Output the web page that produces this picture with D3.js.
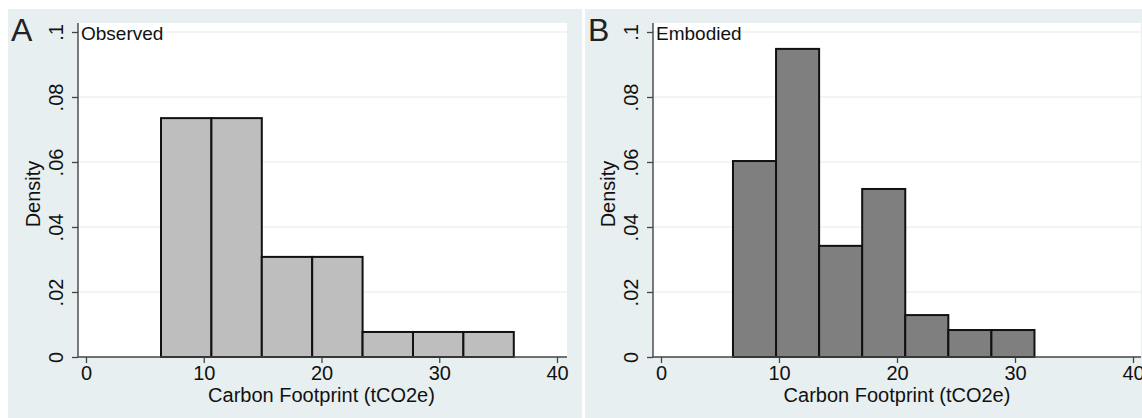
<!DOCTYPE html>
<html>
<head>
<meta charset="utf-8">
<script src="https://cdn.jsdelivr.net/npm/d3@7"></script>
<style>
  body { margin: 0; background: #fff; }
  svg text { font-family: "Liberation Sans", Arial, sans-serif; fill: #111; }
</style>
</head>
<body>
<svg id="chart" width="1142" height="418"></svg>
<script>
// histogram bins (lower edges + last upper edge), density values
const observedEdges = [6.37, 10.65, 14.93, 19.21, 23.49, 27.77, 32.05, 36.33];
const observedDensity = [0.0735, 0.0735, 0.0308, 0.0308, 0.0077, 0.0077, 0.0077];
const embodiedEdges = [6.1, 9.75, 13.4, 17.05, 20.7, 24.35, 28.0, 31.65];
const embodiedDensity = [0.0603, 0.0948, 0.0342, 0.0517, 0.0129, 0.0083, 0.0083];
const xTicks = [0, 10, 20, 30, 40];
const yTicks = [0, 0.02, 0.04, 0.06, 0.08, 0.1];
const yTickLabels = ["0", ".02", ".04", ".06", ".08", ".1"];

let svg = d3.select("#chart");

let panels = [
    {letter: "A", title: "Observed", edges: observedEdges, density: observedDensity, fill: "#bebebe",
     bg: [8, 582], plot: [78, 567], xr: [86, 557]},
    {letter: "B", title: "Embodied", edges: embodiedEdges, density: embodiedDensity, fill: "#7f7f7f",
     bg: [585, 1142], plot: [653, 1141], xr: [661, 1133]}
];

let plotTop = 23, plotBottom = 357;

let y = d3.scaleLinear()
    .domain([0, 0.1])
    .range([357, 32]);

panels.forEach(p => {
    let g = svg.append("g");

    // graph region
    g.append("rect")
        .attr("x", p.bg[0]).attr("y", 9)
        .attr("width", p.bg[1] - p.bg[0]).attr("height", 418 - 9)
        .attr("fill", "#e8eff0");

    // plot region
    g.append("rect")
        .attr("x", p.plot[0]).attr("y", plotTop)
        .attr("width", p.plot[1] - p.plot[0]).attr("height", plotBottom - plotTop)
        .attr("fill", "#fff");

    let x = d3.scaleLinear()
        .domain([0, 40])
        .range(p.xr);

    // gridlines
    g.selectAll(".grid")
        .data(yTicks.slice(1))
        .enter()
        .append("line")
        .attr("x1", p.plot[0]).attr("x2", p.plot[1])
        .attr("y1", d => y(d)).attr("y2", d => y(d))
        .attr("stroke", "#e3ecee")
        .attr("stroke-width", 1.2);

    // bars
    let bins = p.density.map((d, i) => ({x0: p.edges[i], x1: p.edges[i + 1], v: d}));
    g.selectAll(".bar")
        .data(bins)
        .enter()
        .append("rect")
        .attr("x", d => x(d.x0))
        .attr("y", d => y(d.v))
        .attr("width", d => x(d.x1) - x(d.x0))
        .attr("height", d => y(0) - y(d.v))
        .attr("fill", p.fill)
        .attr("stroke", "#111")
        .attr("stroke-width", 2);

    // axis lines
    g.append("line")
        .attr("x1", p.plot[0]).attr("x2", p.plot[0])
        .attr("y1", plotTop).attr("y2", plotBottom)
        .attr("stroke", "#444").attr("stroke-width", 1.4);
    g.append("line")
        .attr("x1", p.plot[0]).attr("x2", p.plot[1])
        .attr("y1", plotBottom).attr("y2", plotBottom)
        .attr("stroke", "#444").attr("stroke-width", 1.4);

    // x axis
    let xAxis = d3.axisBottom(x)
        .tickValues(xTicks)
        .tickSize(6)
        .tickPadding(3)
        .tickFormat(d3.format("d"));
    let xg = g.append("g")
        .attr("transform", "translate(0," + plotBottom + ")")
        .call(xAxis);
    xg.select(".domain").remove();
    xg.selectAll("line").attr("stroke", "#444").attr("stroke-width", 1.3);
    xg.selectAll("text")
        .attr("font-size", 20)
        .attr("font-family", "Liberation Sans, Arial, sans-serif")
        .attr("fill", "#111");

    // y axis, labels rotated as in Stata
    let yAxis = d3.axisLeft(y)
        .tickValues(yTicks)
        .tickSize(6)
        .tickFormat((d, i) => yTickLabels[i]);
    let yg = g.append("g")
        .attr("transform", "translate(" + p.plot[0] + ",0)")
        .call(yAxis);
    yg.select(".domain").remove();
    yg.selectAll("line").attr("stroke", "#444").attr("stroke-width", 1.3);
    yg.selectAll("text")
        .attr("font-size", 20)
        .attr("font-family", "Liberation Sans, Arial, sans-serif")
        .attr("fill", "#111")
        .attr("x", null).attr("dy", null)
        .attr("text-anchor", "middle")
        .attr("transform", "translate(-15,0) rotate(-90)");

    // axis titles
    g.append("text")
        .attr("x", (p.xr[0] + p.xr[1]) / 2)
        .attr("y", 402)
        .attr("text-anchor", "middle")
        .attr("font-size", 20)
        .text("Carbon Footprint (tCO2e)");

    g.append("text")
        .attr("transform", "translate(" + (p.plot[0] - 38) + "," + ((plotTop + plotBottom) / 2 + 4) + ") rotate(-90)")
        .attr("text-anchor", "middle")
        .attr("font-size", 20)
        .text("Density");

    // subtitle inside plot
    g.append("text")
        .attr("x", p.plot[0] + 3)
        .attr("y", 40)
        .attr("font-size", 19)
        .text(p.title);

    // panel letter
    g.append("text")
        .attr("x", p.bg[0] + 3)
        .attr("y", 41)
        .attr("font-size", 32)
        .style("fill", "#222")
        .text(p.letter);
});
</script>
</body>
</html>
